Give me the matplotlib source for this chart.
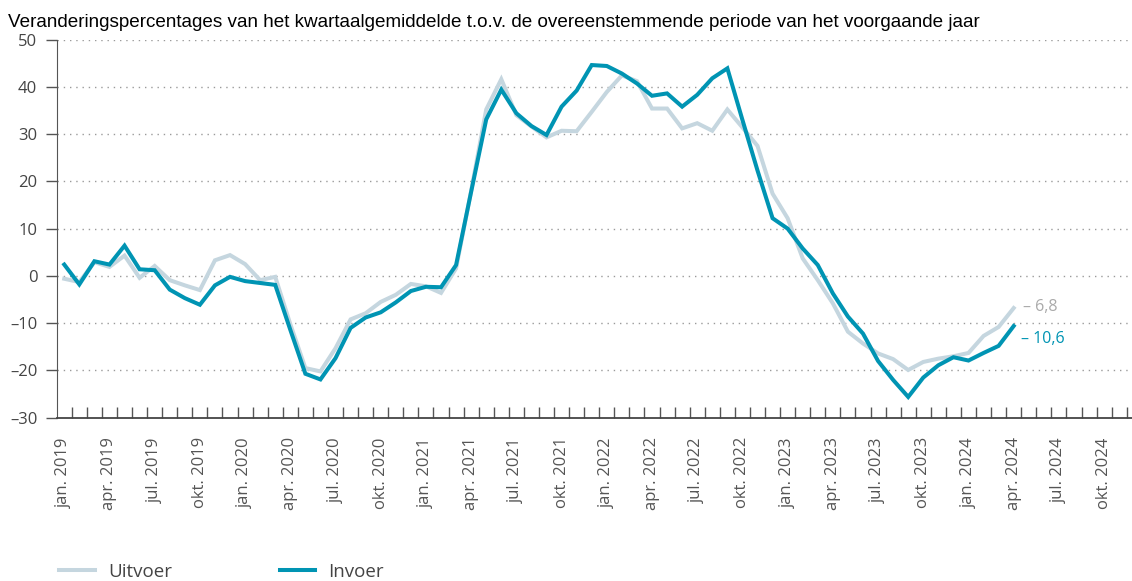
import numpy as np
import matplotlib.pyplot as plt
from matplotlib.ticker import FuncFormatter

# monthly values, jan 2019 - apr 2024
invoer = [2.4, -1.8, 3.1, 2.4, 6.4, 1.4, 1.2, -2.9, -4.7, -6.1, -2.0, -0.2,
          -1.1, -1.5, -1.9, -11.4, -20.7, -21.9, -17.4, -11.0, -8.8, -7.7, -5.6, -3.2,
          -2.3, -2.4, 2.3, 17.8, 33.1, 39.4, 34.4, 31.7, 29.8, 35.8, 39.2, 44.6,
          44.4, 42.8, 40.7, 38.1, 38.6, 35.8, 38.3, 41.8, 43.9, 33.0, 22.3, 12.2,
          10.0, 5.8, 2.3, -3.7, -8.6, -12.2, -18.0, -22.0, -25.6, -21.5, -18.9, -17.2,
          -17.9, -16.3, -14.8, -10.6]
uitvoer = [-0.6, -1.3, 2.9, 1.9, 4.3, -0.4, 2.1, -0.9, -2.0, -3.0, 3.3, 4.4,
           2.5, -0.9, -0.2, -10.2, -19.5, -20.2, -15.3, -9.2, -7.9, -5.5, -4.0, -1.7,
           -2.2, -3.6, 1.6, 18.0, 35.2, 41.6, 34.0, 31.6, 29.3, 30.7, 30.6, 34.7,
           38.9, 42.4, 41.2, 35.4, 35.4, 31.2, 32.3, 30.7, 35.2, 31.4, 27.5, 17.4,
           12.2, 3.7, -0.9, -5.8, -11.8, -14.3, -16.4, -17.6, -19.9, -18.2, -17.5, -17.0,
           -16.3, -12.7, -10.8, -6.8]

month_names = ["jan.", "feb.", "mrt.", "apr.", "mei", "jun.",
               "jul.", "aug.", "sep.", "okt.", "nov.", "dec."]
years = [2019, 2020, 2021, 2022, 2023, 2024]
month_labels = [f"{m} {y}" for y in years for m in month_names]

title = ("Veranderingspercentages van het kwartaalgemiddelde t.o.v. "
         "de overeenstemmende periode van het voorgaande jaar")

dark = "#0094b3"
light = "#c5d6df"
grey = "#555555"

plt.rcParams['font.family'] = ['Open Sans', 'DejaVu Sans']

fig = plt.figure(figsize=(11.32, 5.81), dpi=100)
ax = fig.add_axes([0.0501, 0.281, 0.9499, 0.651])

x = np.arange(len(invoer))
l_uit, = ax.plot(x, uitvoer, color=light, lw=2.9, solid_joinstyle='miter', label="Uitvoer")
l_in, = ax.plot(x, invoer, color=dark, lw=2.9, solid_joinstyle='miter', label="Invoer")

ax.set_ylim(-30, 50)
ax.set_xlim(-0.5, 70.85)
ax.set_yticks(np.arange(-30, 51, 10))
ax.yaxis.set_major_formatter(FuncFormatter(lambda v, p: f"{v:.0f}".replace("-", "–")))
ax.tick_params(axis='y', direction='out', length=8, width=1, color=grey,
               labelsize=12, labelcolor="#444444", pad=6)
for v in range(-20, 51, 10):
    ax.axhline(v, color="#9a9a9a", lw=1, ls=(0, (1, 3.5)), zorder=0)

ticks = list(range(0, len(month_labels), 3))
ax.set_xticks(ticks)
ax.set_xticklabels([month_labels[i] for i in ticks], rotation=90)
ax.tick_params(axis='x', which='major', length=0, labelsize=12,
               labelcolor="#555555", pad=14)
ax.set_xticks(np.arange(0.5, 71, 1), minor=True)
ax.tick_params(axis='x', which='minor', direction='in', length=8, width=1, color=grey)

for s in ['top', 'right']:
    ax.spines[s].set_visible(False)
ax.spines['left'].set_color(grey)
ax.spines['bottom'].set_color("#444444")
ax.spines['bottom'].set_linewidth(1.3)

ax.annotate("– 6,8", (x[-1], uitvoer[-1]), xytext=(7, 1), textcoords='offset points',
            color="#aaaaaa", fontsize=11.5, va='center')
ax.annotate("– 10,6", (x[-1], invoer[-1]), xytext=(5, -9), textcoords='offset points',
            color=dark, fontsize=11.5, va='center')

fig.text(0.007, 0.962, title, family='Liberation Sans', fontsize=13.6,
         color='black', va='center', ha='left')

fig.legend(handles=[l_uit, l_in], loc='center left', bbox_to_anchor=(0.044, 0.016),
           ncol=2, frameon=False, fontsize=13.5, handlelength=1.9, handletextpad=0.7,
           columnspacing=5.75, borderpad=0, labelcolor="#444444")

fig.savefig("out.png", dpi=100)
